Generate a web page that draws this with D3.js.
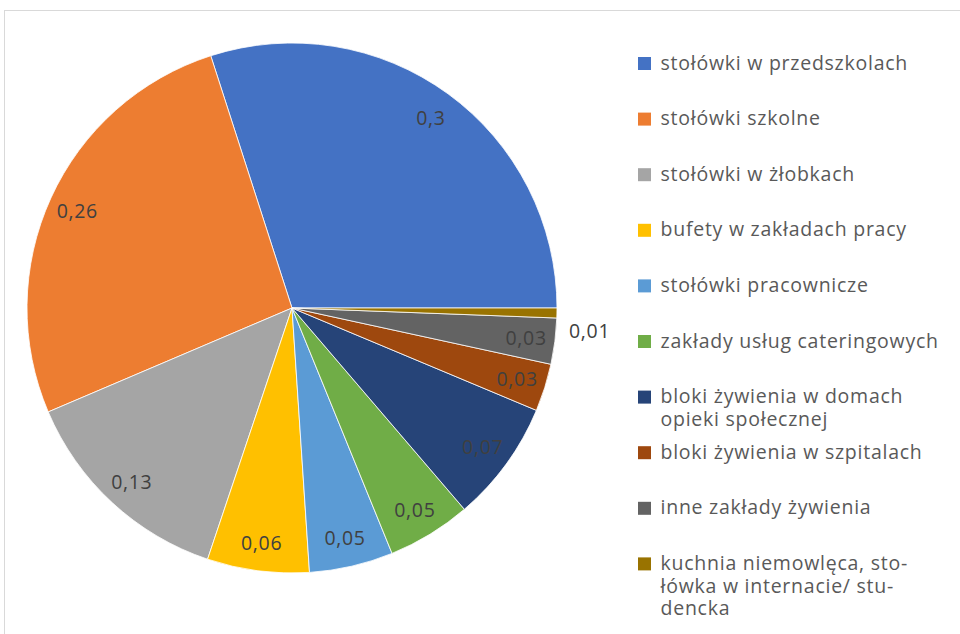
<!DOCTYPE html>
<html>
<head>
<meta charset="utf-8">
<script src="https://cdn.jsdelivr.net/npm/d3@7"></script>
<style>
  html, body { margin: 0; padding: 0; background: #fff; }
  svg { display: block; }
  text { font-family: "Open Sans", Lato, sans-serif; }
</style>
</head>
<body>
<svg id="chart" width="960" height="634"></svg>
<script>
// ---- data ----
const categories = [
  "stołówki w przedszkolach",
  "stołówki szkolne",
  "stołówki w żłobkach",
  "bufety w zakładach pracy",
  "stołówki pracownicze",
  "zakłady usług cateringowych",
  "bloki żywienia w domach opieki społecznej",
  "bloki żywienia w szpitalach",
  "inne zakłady żywienia",
  "kuchnia niemowlęca, stołówka w internacie/ studencka"
];
const legendLines = [
  ["stołówki w przedszkolach"],
  ["stołówki szkolne"],
  ["stołówki w żłobkach"],
  ["bufety w zakładach pracy"],
  ["stołówki pracownicze"],
  ["zakłady usług cateringowych"],
  ["bloki żywienia w domach", "opieki społecznej"],
  ["bloki żywienia w szpitalach"],
  ["inne zakłady żywienia"],
  ["kuchnia niemowlęca, sto-", "łówka w internacie/ stu-", "dencka"]
];
const values = [0.299, 0.264, 0.134, 0.062, 0.051, 0.051, 0.074, 0.029, 0.028, 0.006];
const colors = ["#4472C4", "#ED7D31", "#A5A5A5", "#FFC000", "#5B9BD5",
                "#70AD47", "#264478", "#9E480E", "#636363", "#997300"];

// ---- layout ----
const svg = d3.select("#chart");
const cx = 292, cy = 308, R = 265;

svg.append("rect")
  .attr("x", 4.5).attr("y", 10.5)
  .attr("width", 1200).attr("height", 1200)
  .attr("fill", "none").attr("stroke", "#d9d9d9").attr("stroke-width", 1);

const data = categories.map((c, i) => ({ name: c, value: values[i], color: colors[i], i }));

// start at 3 o'clock, go counter-clockwise
const pie = d3.pie().sort(null).value(d => d.value)
  .startAngle(Math.PI / 2).endAngle(Math.PI / 2 - 2 * Math.PI);
const arcs = pie(data);
const arc = d3.arc().innerRadius(0).outerRadius(R);

const g = svg.append("g").attr("transform", `translate(${cx},${cy})`);
g.selectAll("path.slice").data(arcs).enter().append("path")
  .attr("class", "slice")
  .attr("d", arc)
  .attr("fill", d => d.data.color)
  .attr("stroke", "#ffffff")
  .attr("stroke-width", 0.8);

const fmt = v => d3.format(".2~f")(v).replace(".", ",");
const labelArc = d3.arc().innerRadius(236).outerRadius(236);

g.selectAll("text.lbl").data(arcs).enter().append("text")
  .attr("class", "lbl")
  .attr("transform", d => {
    if (d.data.value < 0.01) {
      const a = (d.startAngle + d.endAngle) / 2;
      const x = Math.sin(a) * (R + 12);
      const y = -Math.cos(a) * (R + 12) + 17;
      return `translate(${x},${y})`;
    }
    const [x, y] = labelArc.centroid(d);
    return `translate(${x},${y})`;
  })
  .attr("text-anchor", d => d.data.value < 0.01 ? "start" : "middle")
  .attr("dominant-baseline", "central")
  .attr("font-size", 19.5)
  .attr("letter-spacing", 0.7)
  .attr("fill", "#404040")
  .text(d => fmt(d.data.value));

// ---- legend ----
const legend = svg.append("g").attr("transform", "translate(638,57)");
const item = legend.selectAll("g.item").data(data).enter().append("g")
  .attr("class", "item")
  .attr("transform", (d, i) => `translate(0,${i * 55.6})`);
item.append("rect")
  .attr("width", 13).attr("height", 13)
  .attr("fill", d => d.color);
item.append("text")
  .attr("x", 22.5).attr("y", 12.5)
  .attr("font-size", 19.5)
  .attr("letter-spacing", 0.75)
  .attr("fill", "#595959")
  .selectAll("tspan").data(d => legendLines[d.i]).enter().append("tspan")
  .attr("x", 22.5)
  .attr("dy", (d, j) => j === 0 ? 0 : 22.8)
  .text(d => d);
</script>
</body>
</html>
